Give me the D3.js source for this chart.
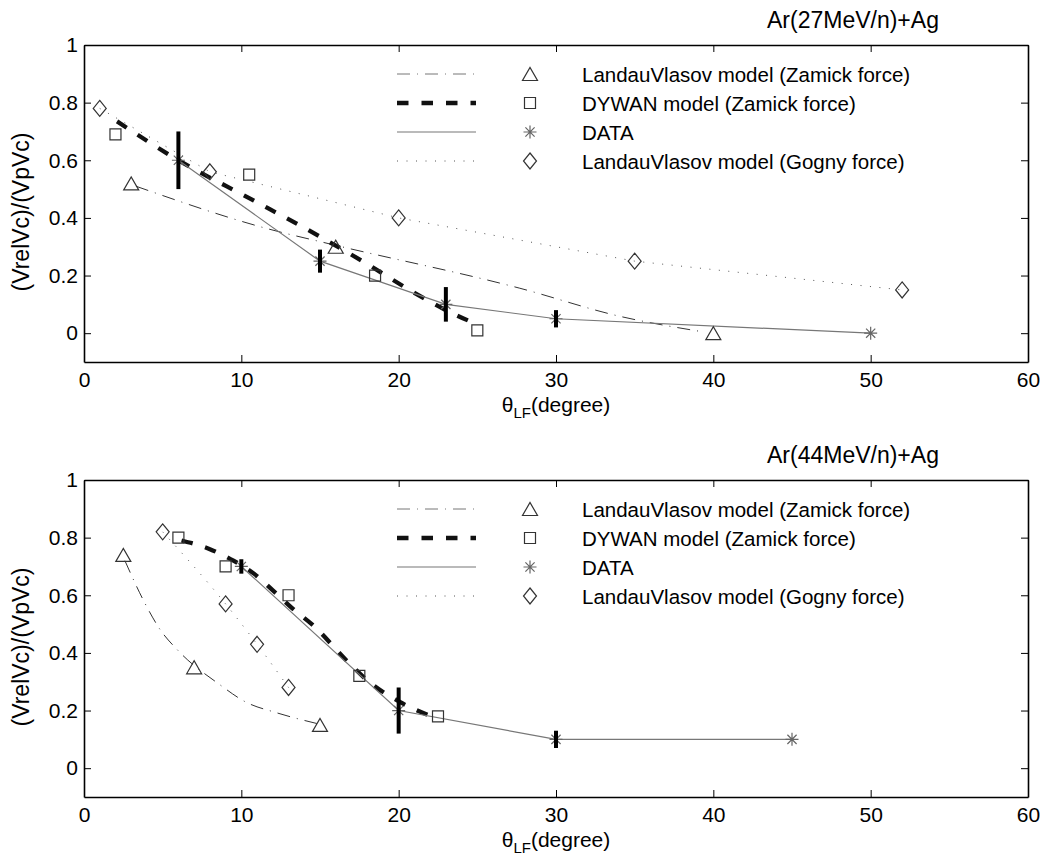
<!DOCTYPE html>
<html>
<head>
<meta charset="utf-8">
<script src="https://cdn.jsdelivr.net/npm/d3@7"></script>
<style>
  body { margin: 0; background: #fff; }
  svg { display: block; font-family: "Liberation Sans", Arial, sans-serif; }
</style>
</head>
<body>
<svg id="chart" width="1053" height="861"></svg>
<script>
// axis ticks and legend text
const xTicks = [0, 10, 20, 30, 40, 50, 60]
const yTicks = [0, 0.2, 0.4, 0.6, 0.8, 1]
const legendLabels = [
    "LandauVlasov model (Zamick force)",
    "DYWAN model (Zamick force)",
    "DATA",
    "LandauVlasov model (Gogny force)"
]
const titles = ["Ar(27MeV/n)+Ag", "Ar(44MeV/n)+Ag"]

// Ar 27 MeV/n  -- [theta, Vrel/Vp]
const lvZamick27 = [[3, 0.52], [16, 0.30], [40, 0.0]]
const lvZamick27Fit = [[3.3, 0.51], [11.7, 0.362], [15.6, 0.31], [27.7, 0.156], [34.1, 0.058], [39.3, 0.005]]
const dywan27 = [[2, 0.69], [10.5, 0.55], [18.5, 0.20], [25, 0.01]]
const dywan27Fit = [[2.1, 0.735], [6, 0.60], [10.8, 0.46], [15, 0.335], [18, 0.24], [21, 0.14], [23, 0.08], [25, 0.03]]
const data27 = [[6, 0.60], [15, 0.25], [23, 0.10], [30, 0.05], [50, 0.0]]
const err27 = [0.10, 0.04, 0.06, 0.03, 0]
const gogny27 = [[1, 0.78], [8, 0.56], [20, 0.40], [35, 0.25], [52, 0.15]]

// Ar 44 MeV/n
const lvZamick44 = [[2.5, 0.74], [7, 0.35], [15, 0.15]]
const lvZamick44Fit = [[2.6, 0.72], [3.8, 0.58], [4.8, 0.484], [6.0, 0.407], [8.6, 0.291], [10.3, 0.229], [12.2, 0.193], [14.8, 0.155]]
const dywan44 = [[6, 0.80], [9, 0.70], [13, 0.60], [17.5, 0.32], [22.5, 0.18]]
const dywan44Fit = [[6.2, 0.79], [8, 0.76], [9.5, 0.72], [10.8, 0.675], [12, 0.617], [13.3, 0.552], [14.6, 0.494], [16.7, 0.373], [18, 0.305], [20.1, 0.229], [22.2, 0.177]]
const data44 = [[10, 0.70], [20, 0.20], [30, 0.10], [45, 0.10]]
const err44 = [0.025, 0.08, 0.03, 0]
const gogny44 = [[5, 0.82], [9, 0.57], [11, 0.43], [13, 0.28]]

const svg = d3.select("#chart")

const xLeft = 84, xRight = 1028

// line styles for the 4 series, in legend order
const styles = [
    {stroke: "#333", width: 1, dash: "13,7,1,7", marker: "tri", mColor: "#333"},
    {stroke: "#111", width: 4.3, dash: "11.5,13", marker: "sq", mColor: "#333"},
    {stroke: "#777", width: 1.2, dash: null, marker: "ast", mColor: "#666"},
    {stroke: "#555", width: 1, dash: "1,8.5", marker: "dia", mColor: "#333"}
]

function markerPath(type, cx, cy) {
    if (type == "tri") return `M${cx - 7.5},${cy + 6.5}L${cx + 7.5},${cy + 6.5}L${cx},${cy - 6.5}Z`
    if (type == "sq") return `M${cx - 5.5},${cy - 5.5}h11v11h-11Z`
    if (type == "dia") return `M${cx},${cy - 8}L${cx + 6.5},${cy}L${cx},${cy + 8}L${cx - 6.5},${cy}Z`
    // asterisk: plus + cross
    const r = 6.5, d = 4.6
    return `M${cx - r},${cy}h${2 * r}M${cx},${cy - r}v${2 * r}` +
        `M${cx - d},${cy - d}L${cx + d},${cy + d}M${cx - d},${cy + d}L${cx + d},${cy - d}`
}

function drawPanel(p) {
    const x = d3.scaleLinear().domain([0, 60]).range([xLeft, xRight])
    const y = d3.scaleLinear().domain([-0.1, 1]).range([p.bottom, p.top])
    const g = svg.append("g")

    // axes, ticks inward on all sides
    g.append("g").attr("transform", `translate(0,${p.bottom})`)
        .call(d3.axisBottom(x).tickValues(xTicks).tickSizeInner(-7).tickSizeOuter(0).tickPadding(10).tickFormat(d3.format("d")))
    g.append("g").attr("transform", `translate(0,${p.top})`)
        .call(d3.axisTop(x).tickValues(xTicks).tickSizeInner(-7).tickSizeOuter(0).tickFormat(""))
    g.append("g").attr("transform", `translate(${xLeft},0)`)
        .call(d3.axisLeft(y).tickValues(yTicks).tickSizeInner(-7).tickSizeOuter(0).tickPadding(6).tickFormat(d => d))
    g.append("g").attr("transform", `translate(${xRight},0)`)
        .call(d3.axisRight(y).tickValues(yTicks).tickSizeInner(-7).tickSizeOuter(0).tickFormat(""))

    g.selectAll(".domain").attr("stroke", "#000").attr("stroke-width", 1.6)
    g.selectAll(".tick line").attr("stroke", "#000").attr("stroke-width", 1)
    g.selectAll(".tick text").attr("font-size", 21).attr("fill", "#000")
        .attr("font-family", "Liberation Sans, Arial, sans-serif")

    // title
    g.append("text").attr("x", 767).attr("y", p.top - 17)
        .attr("font-size", 23).text(p.title)

    // y label
    g.append("text")
        .attr("transform", `translate(29,${p.top + 167}) rotate(-90)`)
        .attr("text-anchor", "middle").attr("font-size", 23)
        .text("(VrelVc)/(VpVc)")

    // x label
    const xl = g.append("text").attr("x", (xLeft + xRight) / 2).attr("y", p.bottom + 50)
        .attr("text-anchor", "middle").attr("font-size", 21)
    xl.append("tspan").text("θ")
    xl.append("tspan").attr("font-size", 15).attr("dy", 6).text("LF")
    xl.append("tspan").attr("dy", -6).text("(degree)")

    // curves
    p.series.forEach((s, i) => {
        const st = styles[i]
        const line = d3.line().x(d => x(d[0])).y(d => y(d[1])).curve(s.curve || d3.curveLinear)
        g.append("path").datum(s.line)
            .attr("d", line)
            .attr("fill", "none")
            .attr("stroke", st.stroke)
            .attr("stroke-width", st.width)
            .attr("stroke-dasharray", st.dash)
    })

    // markers
    p.series.forEach((s, i) => {
        const st = styles[i]
        g.selectAll(null).data(s.marks).join("path")
            .attr("d", d => markerPath(st.marker, x(d[0]), y(d[1])))
            .attr("fill", "none")
            .attr("stroke", st.mColor)
            .attr("stroke-width", 1.2)
    })

    // error bars on the data
    g.selectAll(null).data(p.data.filter((d, i) => p.err[i] > 0)).join("line")
        .attr("x1", d => x(d[0])).attr("x2", d => x(d[0]))
        .attr("y1", (d) => y(d[1] + p.err[p.data.indexOf(d)]))
        .attr("y2", (d) => y(d[1] - p.err[p.data.indexOf(d)]))
        .attr("stroke", "#000").attr("stroke-width", 4)

    // legend
    const lg = g.append("g")
    legendLabels.forEach((lab, i) => {
        const st = styles[i]
        const cy = p.top + 29 + i * 29
        lg.append("line").attr("x1", 397).attr("x2", 476).attr("y1", cy).attr("y2", cy)
            .attr("stroke", i == 0 ? "#777" : st.stroke).attr("stroke-width", st.width)
            .attr("stroke-dasharray", st.dash)
        lg.append("path").attr("d", markerPath(st.marker, 530, cy))
            .attr("fill", "none").attr("stroke", st.mColor).attr("stroke-width", 1.2)
        lg.append("text").attr("x", 582).attr("y", cy + 7.5)
            .attr("font-size", 20.5).text(lab)
    })
}

drawPanel({
    top: 45, bottom: 362, title: titles[0],
    data: data27, err: err27,
    series: [
        {marks: lvZamick27, line: lvZamick27Fit, curve: d3.curveMonotoneX},
        {marks: dywan27, line: dywan27Fit, curve: d3.curveMonotoneX},
        {marks: data27, line: data27},
        {marks: gogny27, line: gogny27}
    ]
})

drawPanel({
    top: 480, bottom: 797, title: titles[1],
    data: data44, err: err44,
    series: [
        {marks: lvZamick44, line: lvZamick44Fit, curve: d3.curveMonotoneX},
        {marks: dywan44, line: dywan44Fit, curve: d3.curveMonotoneX},
        {marks: data44, line: data44},
        {marks: gogny44, line: gogny44, curve: d3.curveMonotoneX}
    ]
})
</script>
</body>
</html>
